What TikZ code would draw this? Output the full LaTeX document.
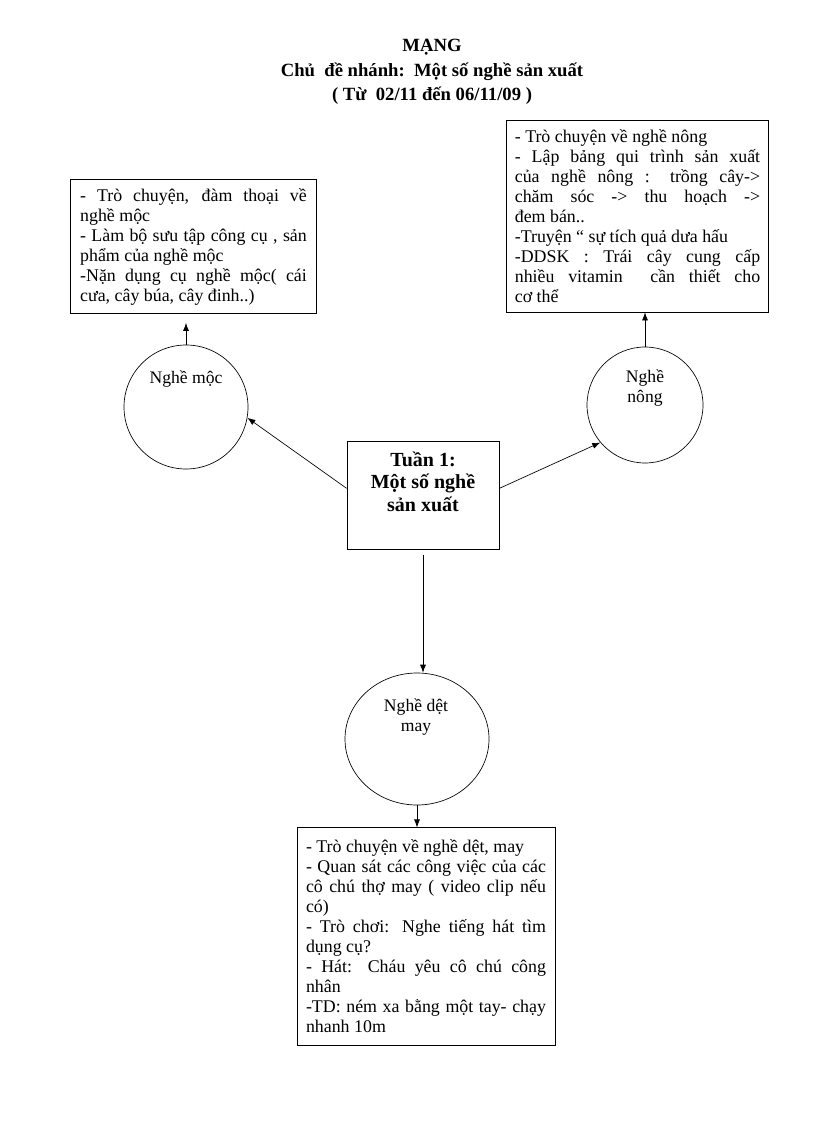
\documentclass[tikz,border=0pt]{standalone}
\usepackage{fontspec}
\setmainfont{Liberation Serif}
\usetikzlibrary{arrows.meta,shapes.geometric}
\hyphenpenalty=10000
\exhyphenpenalty=10000
\tikzset{
    noidung/.style={draw, line width=0.6pt, align=justify, font=\fontsize{13.4}{15}\selectfont},
    vong/.style={draw, circle, line width=0.5pt, inner sep=0pt},
    chu/.style={font=\fontsize{13.2}{15}\selectfont, align=center},
    muiten/.style={-{Latex[length=6pt,width=4.5pt]}, line width=0.5pt}
}

\begin{document}
\begin{tikzpicture}[x=0.75pt,y=-0.75pt]
    \useasboundingbox (0,0) rectangle (816,1123);
    % Title
    \node[align=center, font=\fontsize{14}{18.5}\selectfont\bfseries] (tieude) at (432,72)
        {MẠNG\\Chủ\ \ đề nhánh:\ \ Một số nghề sản xuất\\( Từ\ \ 02/11 đến 06/11/09 )};
    % Center box
    \node[draw, line width=0.6pt, minimum width=114pt, minimum height=81pt] (tuan) at (423,495) {};
    \node[align=center, font=\fontsize{15}{17}\selectfont\bfseries, anchor=north] (tuanchu) at (423,447)
        {Tuần 1:\\Một số nghề\\sản xuất};
    % Circles
    \node[vong, minimum size=93pt] (moc) at (186,407) {};
    \node[chu] (mocchu) at (186,379) {Nghề mộc};
    \node[vong, minimum size=87pt] (nong) at (645,405) {};
    \node[chu] (nongchu) at (645,388) {Nghề\\nông};
    \node[vong, ellipse, minimum width=108pt, minimum height=99pt] (det) at (417,739) {};
    \node[chu] (detchu) at (416,717) {Nghề dệt\\may};
    % Boxes
    \node[noidung, text width=170pt, inner xsep=7pt, minimum height=100pt] (mocbox) at (193.5,246.5)
        {- Trò chuyện, đàm thoại về\linebreak nghề mộc\par
         - Làm bộ sưu tập công cụ , sản\linebreak phẩm của nghề mộc\par
         -Nặn dụng cụ nghề mộc( cái\linebreak cưa, cây búa, cây đinh..)};
    \node[noidung, text width=184pt, inner xsep=6.5pt, minimum height=144pt] (nongbox) at (637.5,216)
        {- Trò chuyện về nghề nông\par
         - Lập bảng qui trình sản xuất\linebreak của nghề nông : trồng cây->\linebreak
         chăm sóc -> thu hoạch ->\linebreak đem bán..\par
         -Truyện “ sự tích quả dưa hấu\par
         -DDSK : Trái cây cung cấp\linebreak nhiều vitamin\ \ cần thiết cho\linebreak cơ thể};
    \node[noidung, text width=180pt, inner xsep=6.75pt, minimum height=163pt] (detbox) at (426,936.5)
        {- Trò chuyện về nghề dệt, may\par
         - Quan sát các công việc của các\linebreak cô chú thợ may ( video clip nếu\linebreak có)\par
         - Trò chơi: Nghe tiếng hát tìm\linebreak dụng cụ?\par
         - Hát: Cháu yêu cô chú công\linebreak nhân\par
         -TD: ném xa bằng một tay- chạy\linebreak nhanh 10m};
    % Arrows
    \draw[muiten] ([yshift=5pt]tuan.west) -- (moc.-10);
    \draw[muiten] ([yshift=5pt]tuan.east) -- (nong.220);
    \draw[muiten, shorten <=4pt] (tuan.south) -- (tuan.south |- det.north);
    \draw[muiten, shorten >=7pt] (moc.north) -- (moc.north |- mocbox.south);
    \draw[muiten] (nong.north) -- (nong.north |- nongbox.south);
    \draw[muiten] (det.south) -- (det.south |- detbox.north);
\end{tikzpicture}
\end{document}
